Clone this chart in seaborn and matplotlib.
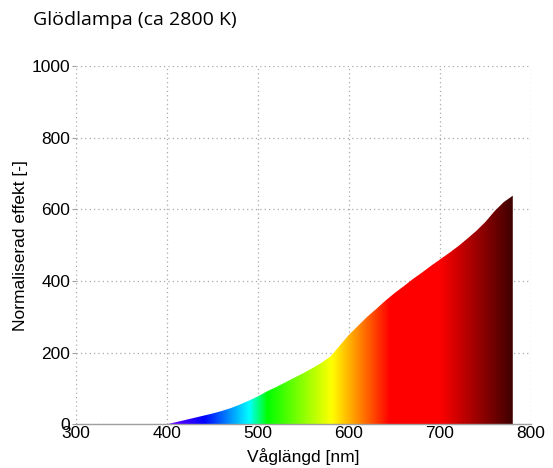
#!/usr/bin/env python3
# Incandescent lamp spectrum (ca 2800 K), filled with spectral colours

import numpy as np
import pandas as pd
import seaborn as sns
import matplotlib.pyplot as plt
from matplotlib.colors import LinearSegmentedColormap, Normalize

# Spectrum, one value per 10 nm
wavelength = [400, 410, 420, 430, 440, 450, 460, 470, 480, 490,
              500, 510, 520, 530, 540, 550, 560, 570, 580, 590,
              600, 610, 620, 630, 640, 650, 660, 670, 680, 690,
              700, 710, 720, 730, 740, 750, 760, 770, 780]
power = [0, 6, 12, 18, 24, 30, 37, 45, 55, 66,
         78, 92, 104, 117, 130, 143, 157, 172, 190, 220,
         250, 275, 300, 322, 345, 366, 385, 405, 423, 442,
         460, 478, 497, 518, 540, 565, 595, 620, 638]

x_ticks = [300, 400, 500, 600, 700, 800]
y_ticks = [0, 200, 400, 600, 800, 1000]

df = pd.DataFrame({"wl": wavelength, "p": power})

sns.set_theme(style="white")
plt.rcParams["font.family"] = ["Liberation Sans", "DejaVu Sans"]

fig = plt.figure(figsize=(5.53, 4.68), dpi=100)
ax = fig.add_axes([0.1374, 0.0934, 0.8228, 0.7656])

# spectral colour scale (violet -> blue -> cyan -> green -> yellow -> red -> dark red)
stops = [(400, (0.45, 0.0, 1.0)), (440, (0.0, 0.0, 1.0)), (490, (0.0, 1.0, 1.0)),
         (510, (0.0, 1.0, 0.0)), (581, (1.0, 1.0, 0.0)), (645, (1.0, 0.0, 0.0)),
         (700, (1.0, 0.0, 0.0)), (780, (0.25, 0.0, 0.0))]
lo, hi = stops[0][0], stops[-1][0]
cmap = LinearSegmentedColormap.from_list(
    "spectrum", [((w - lo) / (hi - lo), c) for w, c in stops])

# area under the curve, used as clip for a horizontal colour gradient
poly = ax.fill_between(df["wl"], df["p"], color="none", lw=0)
grad = np.linspace(lo, hi, 800)[np.newaxis, :]
im = ax.imshow(grad, extent=[df["wl"].min(), df["wl"].max(), 0, df["p"].max()],
               aspect="auto", cmap=cmap, norm=Normalize(lo, hi),
               interpolation="bilinear", origin="lower", zorder=2)
im.set_clip_path(poly.get_paths()[0], transform=ax.transData)

ax.set_xlim(300, 800)
ax.set_ylim(0, 1000)
ax.set_xticks(x_ticks)
ax.set_yticks(y_ticks)

ax.grid(True, color="#a8a8a8", linestyle=(0, (1, 2.5)), linewidth=0.9)
ax.set_axisbelow(True)
for side in ["top", "right", "left"]:
    ax.spines[side].set_visible(False)
ax.spines["bottom"].set_color("#a0a0a0")
ax.spines["bottom"].set_linewidth(1.0)
ax.spines["bottom"].set_zorder(3)

ax.tick_params(axis="y", which="both", left=True, length=3, width=0.8,
               color="#a0a0a0", pad=1, labelsize=12.5, labelcolor="black")
ax.tick_params(axis="x", which="both", bottom=False, length=0, pad=1,
               labelsize=12.5, labelcolor="black")

ax.set_xlabel("Våglängd [nm]", fontsize=12.5, color="black")
ax.set_ylabel("Normaliserad effekt [-]", fontsize=12.5, color="black")
ax.xaxis.set_label_coords(0.5, -0.091)
ax.xaxis.label.set_va("center")
ax.yaxis.set_label_coords(-0.123, 0.5)
ax.yaxis.label.set_va("center")

fig.text(33 / 553, 1 - 20 / 468, "Glödlampa (ca 2800 K)", fontsize=14,
         family=["Open Sans", "DejaVu Sans"], va="center", ha="left", color="black")

fig.savefig("out.png", dpi=100)
